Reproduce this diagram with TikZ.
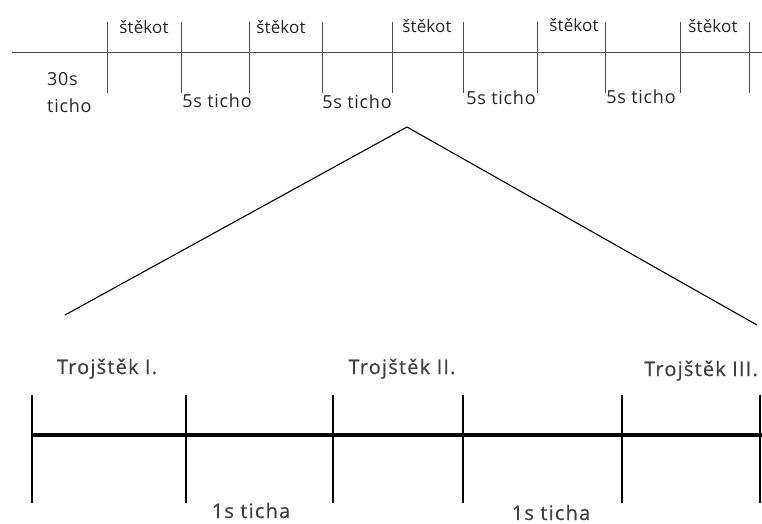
\documentclass[tikz,border=0pt]{standalone}
\usepackage{fontspec}
\setmainfont{Open Sans}
\newfontfamily\smallfont[LetterSpace=1]{Open Sans}
\newfontfamily\quietfont[LetterSpace=4]{Open Sans}
\newfontfamily\bigfont[LetterSpace=6,FakeBold=0.5]{Open Sans}

\begin{document}
\begin{tikzpicture}[x=1pt,y=-1pt,
  every node/.style={inner sep=0pt,anchor=base,text=black!85},
  bark/.style={font=\smallfont\fontsize{17}{20}\selectfont},
  quiet/.style={font=\quietfont\fontsize{18}{27}\selectfont},
  label/.style={font=\bigfont\fontsize{20}{24}\selectfont,text=black!75},
  thin line/.style={draw=black!70,line width=0.9pt},
  zoom line/.style={draw=black,line width=1.1pt},
  thick line/.style={draw=black,line width=3.2pt},
  bar/.style={draw=black,line width=1.4pt}]
\useasboundingbox (0,0) rectangle (762,524);
% top timeline
\coordinate (top start) at (12,52);
\coordinate (top end) at (762,52);
\draw[thin line] (top start) -- (top end);
\foreach \x [count=\i] in {107,181,249,322,392,463,537,605,680,749}
  \draw[thin line] (\x,22) coordinate (up\i) -- (\x,93) coordinate (down\i);
\node[bark] (bark1) at (144,34) {štěkot};
\node[bark] (bark2) at (281,34) {štěkot};
\node[bark] (bark3) at (427,33) {štěkot};
\node[bark] (bark4) at (574,32) {štěkot};
\node[bark] (bark5) at (713,33) {štěkot};
\node[quiet,anchor=base west,align=left] (quiet0) at (47,113) {30s\\ticho};
\node[quiet] (quiet1) at (217,107) {5s ticho};
\node[quiet] (quiet2) at (357,109) {5s ticho};
\node[quiet] (quiet3) at (501,105) {5s ticho};
\node[quiet] (quiet4) at (641,103) {5s ticho};
% zoom lines
\coordinate (apex) at (407,127);
\coordinate (left foot) at (65,315);
\coordinate (right foot) at (757,325);
\draw[zoom line] (left foot) -- (apex) -- (right foot);
% bottom timeline
\coordinate (low start) at (32,435);
\coordinate (low end) at (762,435);
\draw[thick line] (low start) -- (low end);
\foreach \x [count=\i] in {32,186,333,463,622,760}
  \draw[bar] (\x,395) coordinate (hi\i) -- (\x,503) coordinate (lo\i);
\node[label] (triple1) at (107,374) {Trojštěk I.};
\node[label] (triple2) at (402,374) {Trojštěk II.};
\node[label] (triple3) at (701,376) {Trojštěk III.};
\node[label] (gap1) at (251,518) {1s ticha};
\node[label] (gap2) at (551,520) {1s ticha};
\end{tikzpicture}
\end{document}
